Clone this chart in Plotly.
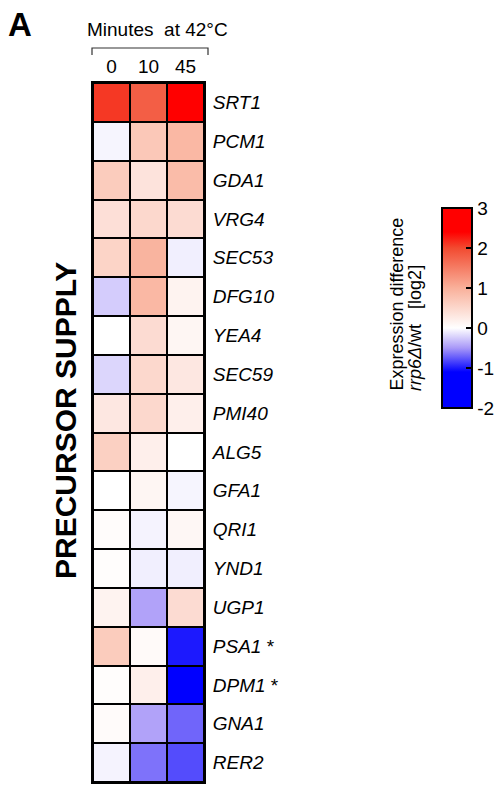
import plotly.graph_objects as go

genes = ["SRT1", "PCM1", "GDA1", "VRG4", "SEC53", "DFG10", "YEA4", "SEC59", "PMI40",
         "ALG5", "GFA1", "QRI1", "YND1", "UGP1", "PSA1", "DPM1", "GNA1", "RER2"]
starred = ["PSA1", "DPM1"]
minutes = ["0", "10", "45"]

t0 = [2.1, -0.05, 0.65, 0.4, 0.55, -0.25, 0.0, -0.2, 0.3, 0.6, 0.0, 0.04, 0.03, 0.15, 0.65, 0.03, 0.05, -0.06]
t10 = [1.8, 0.7, 0.35, 0.5, 0.95, 0.9, 0.45, 0.5, 0.5, 0.2, 0.12, -0.06, -0.08, -0.45, 0.06, 0.2, -0.45, -0.65]
t45 = [2.8, 0.9, 0.85, 0.45, -0.08, 0.15, 0.12, 0.3, 0.2, 0.0, -0.05, 0.1, -0.08, 0.45, -1.0, -1.5, -0.7, -0.8]

zmin, zmax = -2, 3
stops = [(-2, "#0000ff"), (-1.1, "#0000ff"), (-0.5, "#a898f8"), (0, "#ffffff"),
         (1, "#f9b09a"), (2, "#f24a30"), (2.4, "#ff0000"), (3, "#ff0000")]
colorscale = [[(v - zmin) / (zmax - zmin), c] for v, c in stops]

z = [[a, b, c] for a, b, c in zip(t0, t10, t45)]
labels = [f"<i>{g}</i> *" if g in starred else f"<i>{g}</i>" for g in genes]

W, H = 498, 801
fnt = "Liberation Sans, Arial, sans-serif"

fig = go.Figure(go.Heatmap(
    z=z, x=list(range(len(minutes))), y=list(range(len(genes))),
    zmin=zmin, zmax=zmax, colorscale=colorscale, xgap=2, ygap=2,
    colorbar=dict(
        lenmode="pixels", len=200, thickness=30, x=442 / W, xanchor="left",
        y=1 - 308 / H, yanchor="middle", outlinewidth=2, outlinecolor="black",
        tickvals=[-2, -1, 0, 1, 2, 3], ticktext=["-2", "-1", "0", "1", "2", "3"],
        ticks="inside", ticklen=7, tickwidth=2, tickcolor="black",
        tickfont=dict(size=19, color="black", family=fnt), xpad=0, ypad=0,
    ),
))

fig.update_layout(
    width=W, height=H, margin=dict(l=0, r=0, t=0, b=0, autoexpand=False),
    paper_bgcolor="white", plot_bgcolor="black",
    font=dict(family=fnt, color="black"),
    xaxis=dict(domain=[93 / W, 204 / W], side="top", tickvals=list(range(len(minutes))),
               ticktext=minutes, ticks="", showgrid=False, zeroline=False,
               showline=True, linecolor="black", linewidth=2, mirror=True,
               tickfont=dict(size=19), range=[-0.5, len(minutes) - 0.5]),
    yaxis=dict(domain=[1 - 782 / H, 1 - 83 / H], side="right", autorange="reversed",
               tickvals=list(range(len(genes))), ticktext=labels, ticks="",
               showgrid=False, zeroline=False, showline=True, linecolor="black",
               linewidth=2, mirror=True, tickfont=dict(size=19), ticklabelstandoff=3),
)

fig.add_annotation(text="<b>A</b>", x=6 / W, y=1 - 25 / H, xref="paper", yref="paper",
                   xanchor="left", yanchor="middle", showarrow=False, font=dict(size=33))
fig.add_annotation(text="Minutes  at 42°C", x=157 / W, y=1 - 30 / H, xref="paper", yref="paper",
                   xanchor="center", yanchor="middle", showarrow=False, font=dict(size=19))
fig.add_shape(type="path", xref="paper", yref="paper",
              path=f"M {92/W},{1-55/H} L {92/W},{1-48/H} L {208/W},{1-48/H} L {208/W},{1-55/H}",
              line=dict(color="#333", width=1.2))
fig.add_annotation(text="<b>PRECURSOR SUPPLY</b>", x=66 / W, y=1 - 421 / H, xref="paper", yref="paper",
                   xanchor="center", yanchor="middle", showarrow=False, textangle=-90,
                   font=dict(size=30))
fig.add_annotation(text="Expression difference", x=396 / W, y=1 - 393 / H, xref="paper", yref="paper",
                   xanchor="center", yanchor="bottom", showarrow=False, textangle=-90,
                   font=dict(size=18))
fig.add_annotation(text="<i>rrp6Δ</i>/wt   [log2]", x=415 / W, y=1 - 393 / H, xref="paper", yref="paper",
                   xanchor="center", yanchor="bottom", showarrow=False, textangle=-90,
                   font=dict(size=18))

fig.write_html("out.html", config={"displayModeBar": False},
               post_script="document.body.style.margin='0';")
